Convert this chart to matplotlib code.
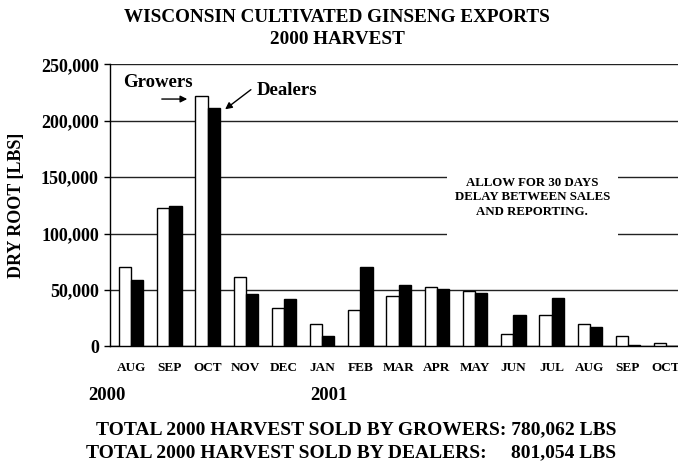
# -*- coding: utf-8 -*-
import matplotlib
matplotlib.use("Agg")
import matplotlib.pyplot as plt
from matplotlib.patches import Rectangle
import numpy as np

## données
months = ['AUG', 'SEP', 'OCT', 'NOV', 'DEC', 'JAN', 'FEB', 'MAR',
          'APR', 'MAY', 'JUN', 'JUL', 'AUG', 'SEP', 'OCT']
growers = [70000, 123000, 222000, 61000, 34000, 20000, 32000, 45000,
           53000, 49000, 10500, 27500, 20000, 9500, 3000]
dealers = [59000, 124000, 211000, 46000, 42000, 9500, 70000, 54000,
           51000, 47000, 28000, 42500, 17500, 1500, 0]
yticks = [0, 50000, 100000, 150000, 200000, 250000]

plt.rcParams['font.family'] = ['Liberation Serif', 'DejaVu Serif']
plt.rcParams['font.weight'] = 'bold'

W, H = 678, 466
fig = plt.figure(figsize=(W / 100, H / 100), dpi=100)
ax = fig.add_axes([110 / W, (H - 346.3) / H, (W - 110) / W, (346.3 - 64.3) / H])

x = np.arange(len(months))
w = 0.32
ax.bar(x - w / 2, growers, w, color='white', edgecolor='black', linewidth=1, zorder=3)
ax.bar(x + w / 2, dealers, w, color='black', edgecolor='black', linewidth=1, zorder=3)

ax.set_xlim(-0.555, 14.31)
ax.set_ylim(0, 250000)
ax.set_yticks(yticks)
ax.set_yticklabels(['{:,}'.format(v) for v in yticks], fontsize=13, fontweight='bold')
ax.set_xticks(x)
ax.set_xticklabels(months, fontsize=9.5, fontweight='bold')
ax.tick_params(axis='x', length=0, pad=11)
ax.tick_params(axis='y', length=4, width=1, pad=4)

ax.yaxis.grid(True, color='#222222', linewidth=1, zorder=0)
ax.set_axisbelow(True)
for s in ['top', 'right']:
    ax.spines[s].set_visible(False)
ax.spines['left'].set_linewidth(1)
ax.spines['bottom'].set_linewidth(1)

# boîte blanche pour la note
ax.add_patch(Rectangle((8.27, 95000), 4.47, 65000, facecolor='white',
                       edgecolor='none', zorder=2))
ax.text(10.5, 132000, 'ALLOW FOR 30 DAYS\nDELAY BETWEEN SALES\nAND REPORTING.',
        ha='center', va='center', fontsize=9.3, fontweight='bold',
        linespacing=1.3, zorder=4)

# étiquettes Growers / Dealers
ax.text(0.70, 234300, 'Growers', ha='center', va='center', fontsize=13.5, fontweight='bold')
ax.text(4.08, 227200, 'Dealers', ha='center', va='center', fontsize=13.5, fontweight='bold')
ax.annotate('', xy=(1.539, 219200), xytext=(0.728, 219200),
            arrowprops=dict(arrowstyle='-|>', color='black', lw=1, mutation_scale=10))
ax.annotate('', xy=(2.40, 208600), xytext=(3.19, 229000),
            arrowprops=dict(arrowstyle='-|>', color='black', lw=1, mutation_scale=10))

# titres et textes
fig.text(337 / W, 1 - 18 / H, 'WISCONSIN CULTIVATED GINSENG EXPORTS',
         ha='center', va='center', fontsize=13.8, fontweight='bold')
fig.text(337 / W, 1 - 40 / H, '2000 HARVEST',
         ha='center', va='center', fontsize=13.8, fontweight='bold')
fig.text(17 / W, 1 - 205 / H, 'DRY ROOT [LBS]', rotation=90,
         ha='center', va='center', fontsize=13, fontweight='bold')
fig.text(88 / W, 1 - 396 / H, '2000', ha='left', va='center', fontsize=13.5, fontweight='bold')
fig.text(310 / W, 1 - 396 / H, '2001', ha='left', va='center', fontsize=13.5, fontweight='bold')
fig.text(96 / W, 1 - 430 / H, 'TOTAL 2000 HARVEST SOLD BY GROWERS: 780,062 LBS',
         ha='left', va='center', fontsize=14, fontweight='bold')
fig.text(86 / W, 1 - 453 / H, 'TOTAL 2000 HARVEST SOLD BY DEALERS:     801,054 LBS',
         ha='left', va='center', fontsize=14, fontweight='bold')

fig.savefig('out.png', dpi=100)
